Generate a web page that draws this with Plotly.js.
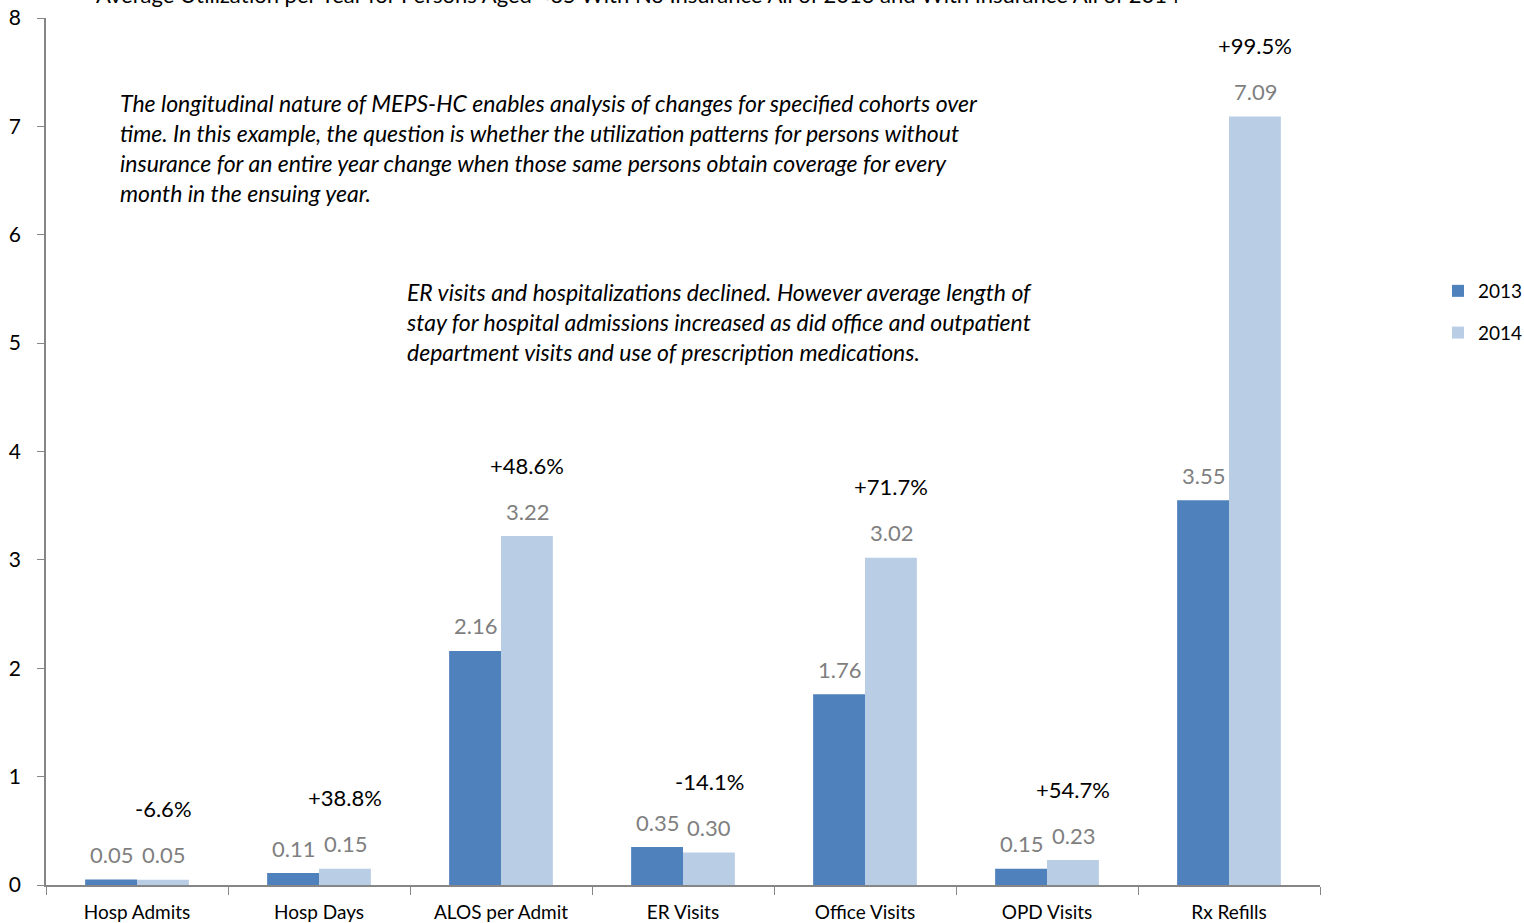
<!DOCTYPE html>
<html>
<head>
<meta charset="utf-8">
<script src="https://cdn.plot.ly/plotly-3.0.1.min.js"></script>
<style>html,body{margin:0;padding:0;background:#fff;}#chart{width:1524px;height:923px;}</style>
</head>
<body>
<div id="chart"></div>
<script>
const categories = ["Hosp Admits", "Hosp Days", "ALOS per Admit", "ER Visits", "Office Visits", "OPD Visits", "Rx Refills"];
const values2013 = [0.051, 0.11, 2.16, 0.35, 1.76, 0.15, 3.55];
const values2014 = [0.048, 0.15, 3.22, 0.30, 3.02, 0.23, 7.09];
const pctChange = ["-6.6%", "+38.8%", "+48.6%", "-14.1%", "+71.7%", "+54.7%", "+99.5%"];
const yTicks = [0, 1, 2, 3, 4, 5, 6, 7, 8];
const titleText = "Average Utilization per Year for Persons Aged <65 With No Insurance All of 2013 and With Insurance All of 2014";
const note1 = "The longitudinal nature of MEPS-HC enables analysis of changes for specified cohorts over<br>time. In this example, the question is whether the utilization patterns for persons without<br>insurance for an entire year change when those same persons obtain coverage for every<br>month in the ensuing year.";
const note2 = "ER visits and hospitalizations declined. However average length of<br>stay for hospital admissions increased as did office and outpatient<br>department visits and use of prescription medications.";

const FONT = "Lato, 'Open Sans', sans-serif";

const traces = [
  {type: "bar", name: "2013", x: categories, y: values2013, legendgroup: "a",
   marker: {color: "#4f81bd"}, hoverinfo: "x+y"},
  {type: "bar", name: "2014", x: categories, y: values2014, legendgroup: "b",
   marker: {color: "#b9cde5"}, hoverinfo: "x+y"}
];

const annotations = [];
categories.forEach((c, i) => {
  annotations.push({x: c, y: values2013[i], xref: "x", yref: "y", text: values2013[i].toFixed(2),
    showarrow: false, xshift: -26, yshift: 25, font: {size: 22, color: "#7f7f7f", family: FONT}});
  annotations.push({x: c, y: values2014[i], xref: "x", yref: "y", text: values2014[i].toFixed(2),
    showarrow: false, xshift: 26, yshift: 25, font: {size: 22, color: "#7f7f7f", family: FONT}});
  annotations.push({x: c, y: values2014[i], xref: "x", yref: "y", text: pctChange[i],
    showarrow: false, xshift: 26, yshift: 71, font: {size: 22, color: "#000", family: FONT}});
});
annotations.push({
  xref: "paper", yref: "paper", x: (638 - 46) / 1274, y: 1 + (18 - 10) / 867,
  xanchor: "center", yanchor: "bottom", text: titleText, showarrow: false,
  font: {size: 22, color: "#000", family: FONT}
});
annotations.push({
  xref: "paper", yref: "paper", x: (118 - 46) / 1274, y: 1 - (87 - 18) / 867,
  xanchor: "left", yanchor: "top", align: "left", text: "<i>" + note1 + "</i>", showarrow: false,
  font: {size: 23, color: "#000", family: FONT}
});
annotations.push({
  xref: "paper", yref: "paper", x: (404 - 46) / 1274, y: 1 - (276 - 18) / 867,
  xanchor: "left", yanchor: "top", align: "left", text: "<i>" + note2 + "</i>", showarrow: false,
  font: {size: 23, color: "#000", family: FONT}
});

const layout = {
  width: 1524, height: 923,
  margin: {l: 46, r: 204, t: 18, b: 38, pad: 0},
  paper_bgcolor: "#fff", plot_bgcolor: "#fff",
  barmode: "group", bargap: 0.43, bargroupgap: 0,
  font: {family: FONT, size: 19, color: "#000"},
  xaxis: {type: "category", showline: true, linecolor: "#868686", linewidth: 1.5,
          ticks: "outside", tickson: "boundaries", ticklen: 8, tickcolor: "#868686",
          ticklabelstandoff: 9,
          tickfont: {size: 19, family: FONT}, showgrid: false, zeroline: false},
  yaxis: {range: [0, 8], tickvals: yTicks, showline: true, linecolor: "#868686", linewidth: 1.5,
          ticks: "outside", ticklen: 7, tickcolor: "#868686", showgrid: false, zeroline: false,
          ticklabelstandoff: 12,
          tickfont: {size: 21, family: FONT}},
  legend: {x: 1438 / 1524, xref: "container", y: 1 - 272 / 923, yref: "container",
           xanchor: "left", yanchor: "top", font: {size: 19, family: FONT},
           traceorder: "grouped", tracegroupgap: 14, itemwidth: 30},
  annotations: annotations,
  showlegend: true
};

Plotly.newPlot("chart", traces, layout, {displayModeBar: false});
</script>
</body>
</html>
